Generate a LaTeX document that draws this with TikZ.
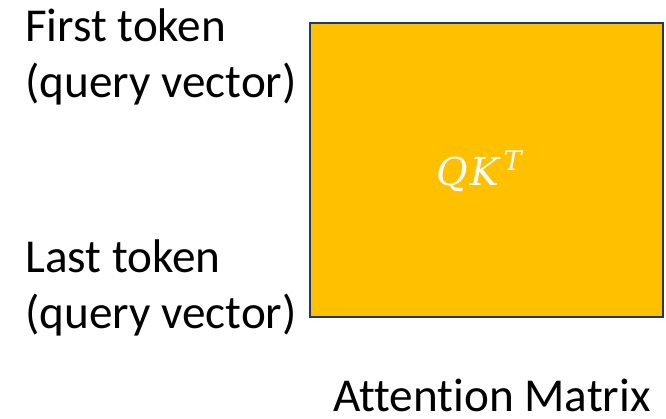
\documentclass[tikz,border=0pt]{standalone}
\usepackage{fontspec}
\setmainfont{Carlito}[Ligatures=NoCommon]
\newfontfamily\formulafont{DejaVu Serif}
\definecolor{matfill}{HTML}{FFC000}
\definecolor{matedge}{HTML}{1F3864}
\begin{document}
\begin{tikzpicture}[x=1pt,y=-1pt,
  label text/.style={inner sep=0pt, align=left, anchor=base west,
    font=\fontsize{47.2}{56}\selectfont},
  matrix box/.style={draw=matedge, line width=2.6pt, fill=matfill}]
  \useasboundingbox (0,0) rectangle (666,418);
  % attention matrix block
  \draw[matrix box] (310,23) rectangle (663,317);
  \node[inner sep=0pt, text=white, anchor=base west,
        font=\fontsize{38.5}{46}\formulafont\itshape]
    (qk) at (436,185)
    {Q\kern3pt K\kern4pt\raisebox{15pt}{\fontsize{27}{32}\selectfont T}};
  % row labels (anchored on the baseline of their last line)
  \node[label text] (first) at (25,97) {First token\\(query vector)};
  \node[label text] (last) at (25,328) {Last token\\(query vector)};
  % caption
  \node[label text] (caption) at (333,411) {Attention Matrix};
\end{tikzpicture}
\end{document}
